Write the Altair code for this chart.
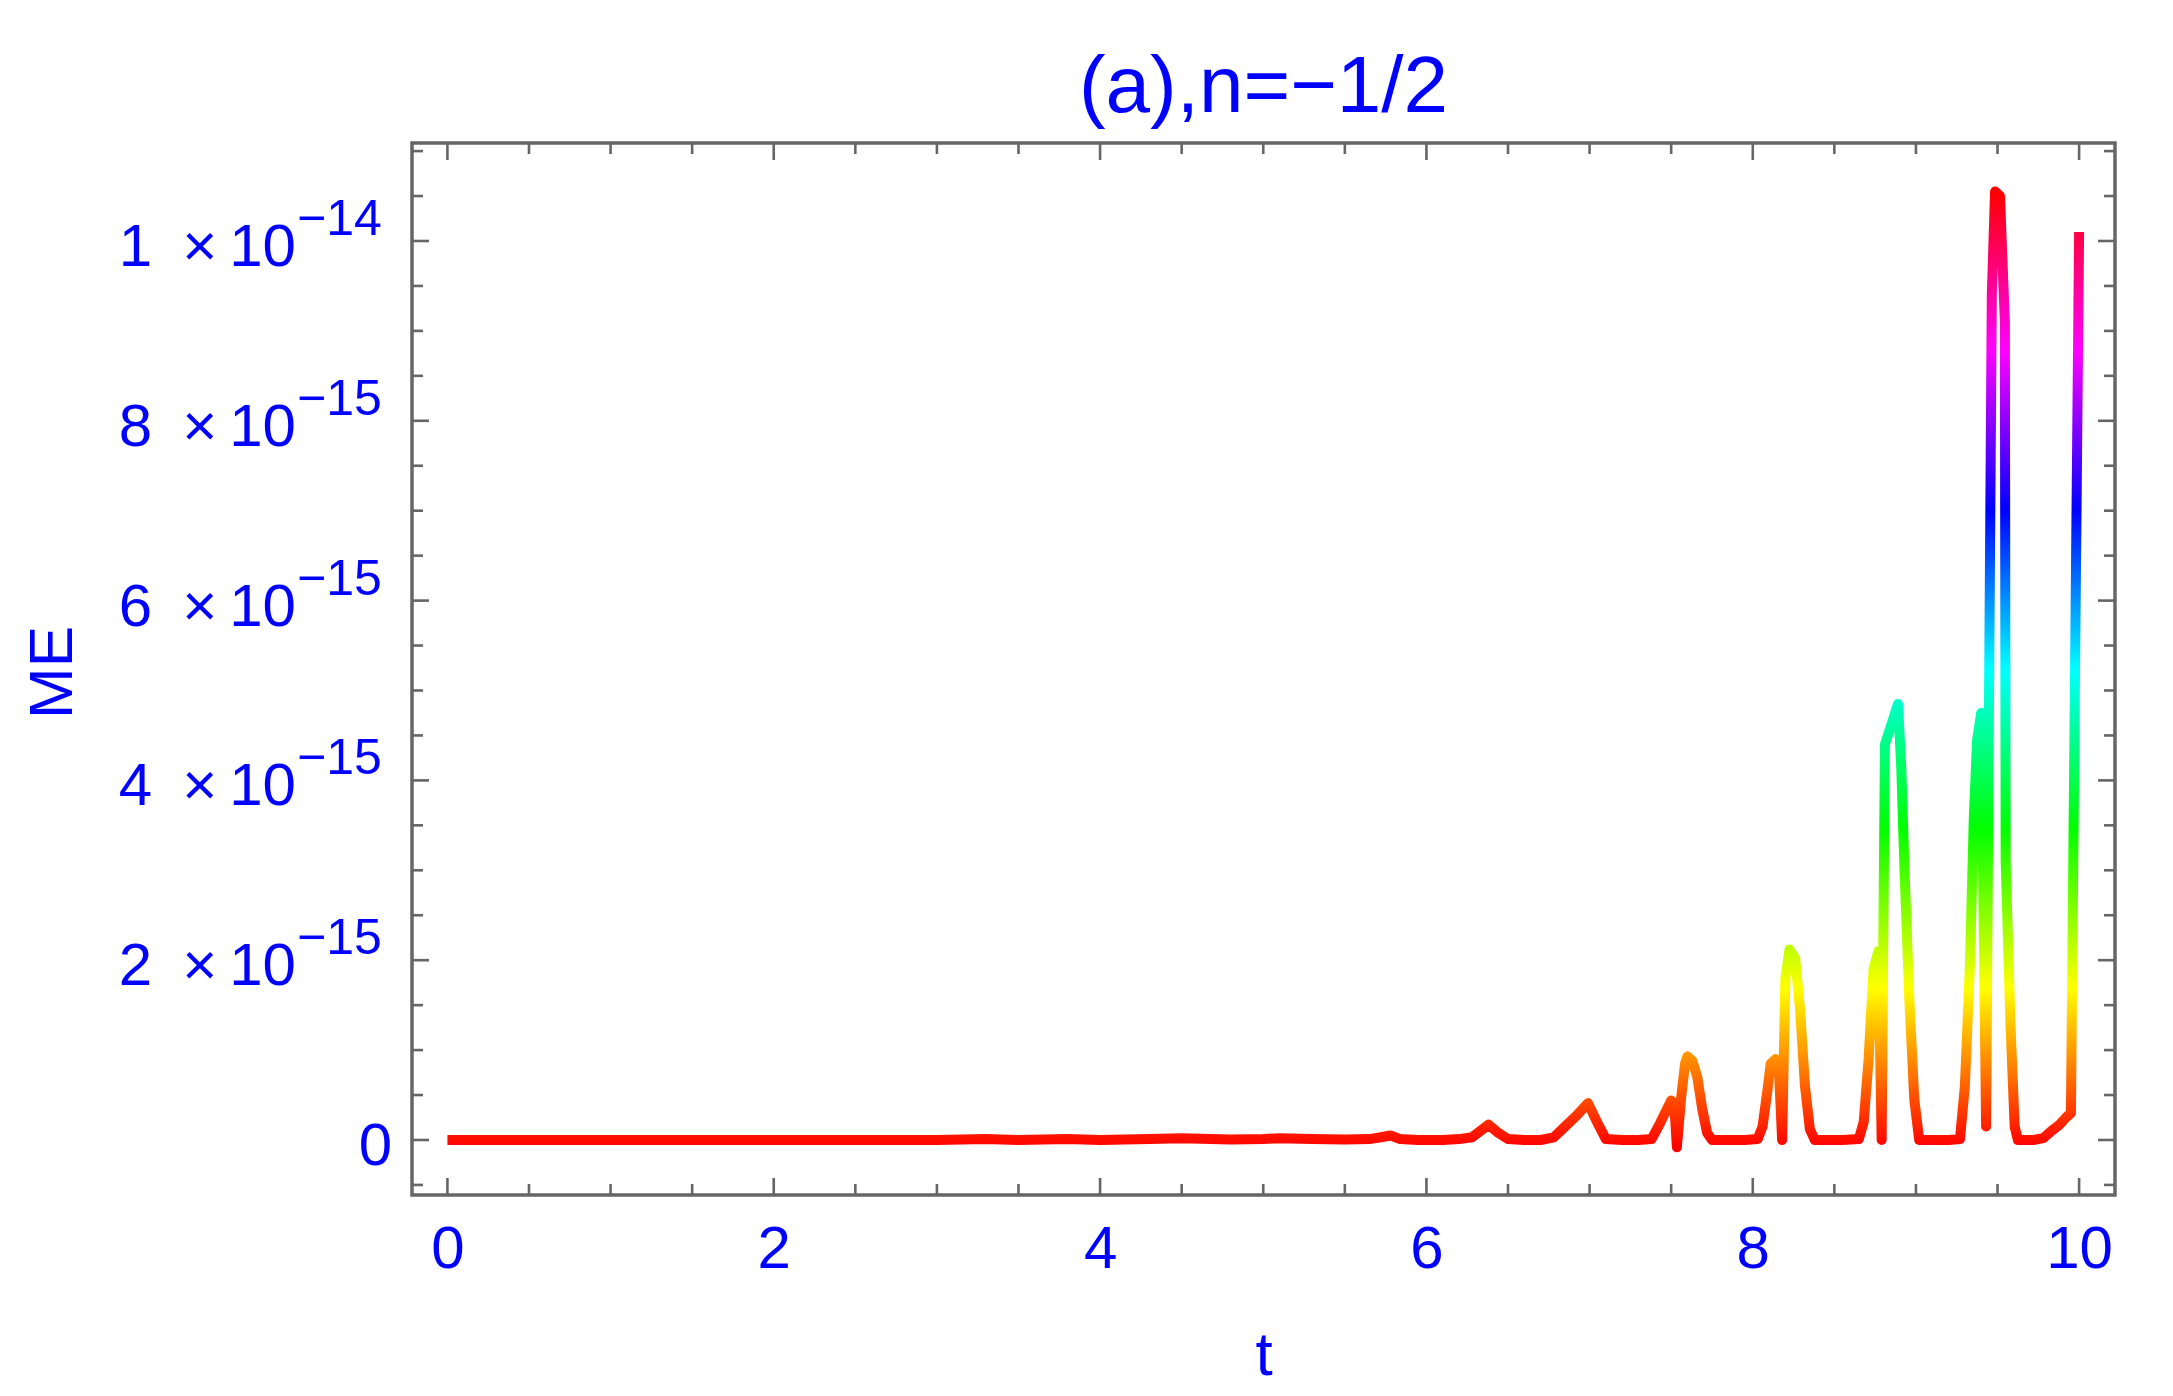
import altair as alt
import pandas as pd

# ---------------- data ----------------
t_vals = [0, 0.5, 1, 1.5, 2, 2.5, 3, 3.3, 3.5, 3.8, 4.0, 4.3, 4.5, 4.8, 5.0, 5.1, 5.3, 5.5,
          5.65, 5.72, 5.78, 5.84, 5.95, 6.1, 6.2, 6.28, 6.33, 6.38, 6.44, 6.5, 6.6, 6.7,
          6.78, 6.85, 6.92, 6.99, 7.04, 7.1, 7.2, 7.3, 7.38, 7.43, 7.47, 7.50, 7.52, 7.535,
          7.56, 7.585, 7.60, 7.63, 7.66, 7.69, 7.72, 7.75, 7.85, 7.95, 8.03, 8.06, 8.09,
          8.11, 8.14, 8.16, 8.18, 8.20, 8.225, 8.26, 8.29, 8.32, 8.35, 8.38, 8.45, 8.55,
          8.65, 8.68, 8.71, 8.74, 8.77, 8.79, 8.81, 8.86, 8.89, 8.91, 8.93, 8.96, 8.99,
          9.02, 9.1, 9.2, 9.27, 9.30, 9.33, 9.355, 9.375, 9.40, 9.43, 9.465, 9.485, 9.515,
          9.545, 9.55, 9.58, 9.605, 9.625, 9.72, 9.78, 9.83, 9.88, 9.92, 9.95, 10.0]

# ME in units of 1e-15
me_e15 = [0, 0, 0, 0, 0, 0, 0, 0.01, 0, 0.01, 0, 0.01, 0.02, 0.005, 0.01, 0.02, 0.01, 0.005,
          0.01, 0.03, 0.05, 0.01, 0.0, 0.0, 0.01, 0.03, 0.10, 0.17, 0.08, 0.01, 0.0, 0.0,
          0.03, 0.15, 0.27, 0.41, 0.22, 0.01, 0.0, 0.0, 0.01, 0.18, 0.33, 0.44, 0.36, -0.08,
          0.45, 0.85, 0.93, 0.88, 0.70, 0.35, 0.08, 0.0, 0.0, 0.0, 0.01, 0.15, 0.55,
          0.85, 0.90, 0.80, 0.0, 1.8, 2.12, 2.02, 1.45, 0.6, 0.12, 0.0, 0.0, 0.0,
          0.01, 0.2, 0.9, 1.9, 2.1, 0.0, 4.4, 4.68, 4.85, 4.15, 3.0, 1.55, 0.45,
          0.0, 0.0, 0.0, 0.01, 0.6, 1.9, 3.6, 4.45, 4.75, 0.15, 9.4, 10.55, 10.5,
          9.1, 3.1, 1.26, 0.15, 0.0, 0.0, 0.02, 0.1, 0.17, 0.25, 0.3, 10.1]

x_major_ticks = [0, 2, 4, 6, 8, 10]
x_minor_ticks = [0.5, 1, 1.5, 2.5, 3, 3.5, 4.5, 5, 5.5, 6.5, 7, 7.5, 8.5, 9, 9.5]
y_major_ticks = [0, 2, 4, 6, 8, 10]                       # x 1e-15
y_minor_ticks = [-0.5, 0.5, 1, 1.5, 2.5, 3, 3.5, 4.5, 5, 5.5, 6.5, 7, 7.5,
                 8.5, 9, 9.5, 10.5, 11]                    # x 1e-15
y_label_values = [2, 4, 6, 8, 10]
y_label_mantissa = ["2", "4", "6", "8", "1"]
y_label_exponent = ["\u221215", "\u221215", "\u221215", "\u221215", "\u221214"]

title_text = "(a),n=\u22121/2"
x_title = "t"
y_title = "ME"

# ---------------- styling ----------------
W, H = 1703, 1052
FONT = "Liberation Sans"
BLUE = "#0000ff"
FRAME = "#666666"
MAJOR_LEN, MINOR_LEN = 17, 11

xscale = alt.Scale(domain=[-0.217, 10.22], nice=False, zero=False)
yscale = alt.Scale(domain=[-0.612, 11.09], nice=False, zero=False)

hue_stops = [
    alt.GradientStop(color="#ff0000", offset=0.0),
    alt.GradientStop(color="#ffff00", offset=1 / 6),
    alt.GradientStop(color="#00ff00", offset=2 / 6),
    alt.GradientStop(color="#00ffff", offset=3 / 6),
    alt.GradientStop(color="#0000ff", offset=4 / 6),
    alt.GradientStop(color="#ff00ff", offset=5 / 6),
    alt.GradientStop(color="#ff0000", offset=1.0),
]

line_df = pd.DataFrame({"t": t_vals, "ME": me_e15})

x_axis = alt.Axis(values=x_major_ticks, labelFontSize=60, labelFont=FONT, labelColor=BLUE,
                  labelBaseline="alphabetic", labelPadding=72, labelFlush=False,
                  labelOverlap=False, ticks=False, tickSize=0, domain=False, grid=False,
                  title=x_title, titleFont=FONT, titleFontSize=62, titleColor=BLUE,
                  titleFontWeight="normal", titleX=W / 2, titleY=179,
                  titleBaseline="alphabetic", titleAlign="center")
y_axis = alt.Axis(labels=False, ticks=False, tickSize=0, domain=False, grid=False,
                  title=y_title, titleFont=FONT, titleFontSize=62, titleColor=BLUE,
                  titleFontWeight="normal", titleAngle=270, titleX=-341, titleY=529,
                  titleBaseline="alphabetic", titleAlign="center")

line = alt.Chart(line_df).mark_line(
    stroke=alt.Gradient(gradient="linear", stops=hue_stops, x1=0, x2=0, y1=1, y2=0),
    strokeWidth=10, strokeJoin="round", strokeCap="butt"
).encode(
    x=alt.X("t:Q", scale=xscale, axis=x_axis),
    y=alt.Y("ME:Q", scale=yscale, axis=y_axis),
)


def hticks(vals, length, top):
    df = pd.DataFrame({"t": vals})
    y0 = 0 if top else H
    y1 = length if top else H - length
    return alt.Chart(df).mark_rule(color=FRAME, strokeWidth=2.6).encode(
        x=alt.X("t:Q", scale=xscale, axis=x_axis),
        y=alt.value(y0), y2=alt.value(y1))


def vticks(vals, length, right):
    df = pd.DataFrame({"ME": vals})
    x0 = W if right else 0
    x1 = W - length if right else length
    return alt.Chart(df).mark_rule(color=FRAME, strokeWidth=2.6).encode(
        y=alt.Y("ME:Q", scale=yscale, axis=y_axis),
        x=alt.value(x0), x2=alt.value(x1))


ticks = [
    hticks(x_major_ticks, MAJOR_LEN, False), hticks(x_minor_ticks, MINOR_LEN, False),
    hticks(x_major_ticks, MAJOR_LEN, True), hticks(x_minor_ticks, MINOR_LEN, True),
    vticks(y_major_ticks, MAJOR_LEN, False), vticks(y_minor_ticks, MINOR_LEN, False),
    vticks(y_major_ticks, MAJOR_LEN, True), vticks(y_minor_ticks, MINOR_LEN, True),
]

lab_df = pd.DataFrame({
    "ME": y_label_values,
    "main": [m + "\u2002\u00d7\u200910" for m in y_label_mantissa],
    "exp": y_label_exponent,
})
zero_df = pd.DataFrame({"ME": [0], "main": ["0"]})
title_df = pd.DataFrame({"label": [title_text]})

y_main = alt.Chart(lab_df).mark_text(
    align="right", baseline="alphabetic", dy=25, fontSize=60, font=FONT, color=BLUE
).encode(x=alt.value(-116), y=alt.Y("ME:Q", scale=yscale, axis=y_axis), text="main:N")

y_exp = alt.Chart(lab_df).mark_text(
    align="left", baseline="alphabetic", dy=-6, fontSize=50, font=FONT, color=BLUE
).encode(x=alt.value(-115), y=alt.Y("ME:Q", scale=yscale, axis=y_axis), text="exp:N")

y_zero = alt.Chart(zero_df).mark_text(
    align="right", baseline="alphabetic", dy=25, fontSize=60, font=FONT, color=BLUE
).encode(x=alt.value(-20), y=alt.Y("ME:Q", scale=yscale, axis=y_axis), text="main:N")

title_mark = alt.Chart(title_df).mark_text(
    align="center", baseline="alphabetic", fontSize=80, font=FONT, color=BLUE
).encode(x=alt.value(W / 2), y=alt.value(-31), text="label:N")

chart = alt.layer(line, *ticks, y_main, y_exp, y_zero, title_mark).properties(
    width=W, height=H,
    autosize=alt.AutoSizeParams(type="none"),
    padding={"left": 404, "top": 135, "right": 40, "bottom": 200},
).configure_view(stroke=FRAME, strokeWidth=3.5)

chart.save("out.html", embed_options={"renderer": "svg", "actions": False})
